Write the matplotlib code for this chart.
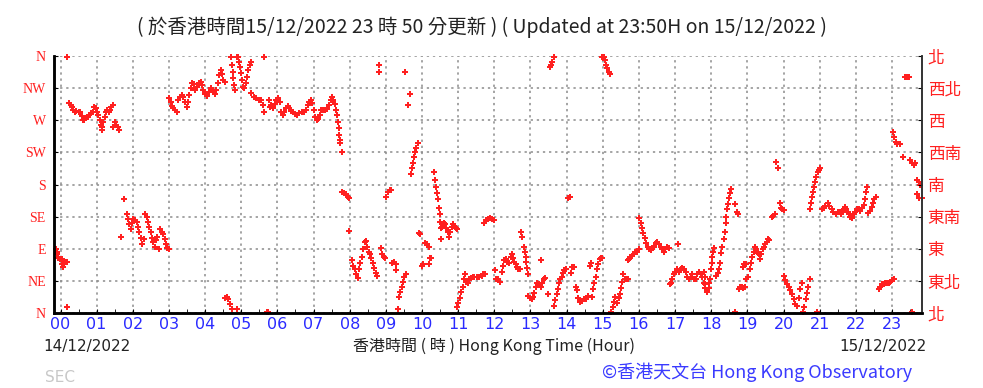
import matplotlib.pyplot as plt
from matplotlib.ticker import MultipleLocator

# wind direction (degrees) vs Hong Kong time (hours)
hours_a = [-0.13, -0.11, -0.09, -0.065, -0.02, 0.03, 0.055, 0.07, 0.11, 0.15, 0.17, 0.185, 0.17,
           0.24, 0.28, 0.31, 0.35, 0.39, 0.44, 0.50, 0.55, 0.59, 0.63, 0.66, 0.70, 0.75, 0.79, 0.85,
           0.89, 0.93, 0.98, 1.02, 1.05, 1.09, 1.12, 1.14, 1.16, 1.18, 1.22, 1.26, 1.29, 1.33, 1.37,
           1.41, 1.46, 1.44, 1.50, 1.53, 1.58, 1.63,
           1.66, 1.75, 1.83, 1.86, 1.90, 1.94, 1.98, 2.01, 2.06, 2.11, 2.14, 2.18, 2.22, 2.25, 2.31,
           2.34, 2.38, 2.42, 2.46, 2.49, 2.53, 2.57, 2.61, 2.64, 2.68, 2.72, 2.75, 2.80, 2.84, 2.88,
           2.92, 2.95, 2.99,
           3.01, 3.05, 3.08, 3.12, 3.17, 3.21, 3.26, 3.30, 3.35, 3.40, 3.44, 3.49, 3.52, 3.56, 3.60,
           3.65, 3.69, 3.73, 3.77, 3.82, 3.88, 3.91, 3.95, 4.00, 4.04, 4.10, 4.15, 4.21, 4.27, 4.30,
           4.35, 4.39, 4.43, 4.47, 4.50, 4.54, 4.71, 4.74, 4.76, 4.78, 4.81, 4.84, 4.87, 4.92, 4.95,
           4.97, 4.99, 5.01, 5.04, 5.08, 5.12, 5.15, 5.19, 5.23, 5.26, 5.27, 5.34, 5.41, 5.48, 5.54,
           5.60, 5.63, 5.64, 5.78, 5.80,
           4.55, 4.60, 4.64, 4.69, 4.74, 4.89, 5.71, 5.75]
dir_a = [89, 86, 83, 77, 75, 75, 69, 65, 70, 72, 71, 358, 8,
         294, 292, 288, 284, 282, 283, 282, 281, 276, 271, 270, 273, 275, 277, 280,
         282, 288, 287, 282, 277, 270, 263, 257, 260, 268, 275, 281, 284, 282, 285,
         288, 291, 260, 267, 263, 260, 256,
         106, 159, 139, 131, 124, 117, 126, 131, 130, 128, 121, 114, 105, 97, 103,
         139, 135, 128, 121, 113, 105, 99, 93, 102, 107, 89, 117, 113, 110, 103,
         96, 91, 89,
         301, 295, 290, 287, 284, 282, 298, 303, 305, 302, 296, 288, 296, 305, 315,
         322, 321, 313, 317, 322, 324, 319, 313, 307, 304, 310, 315, 312, 307, 312,
         322, 333, 340, 335, 327, 324, 358, 347, 338, 329, 319, 312, 359, 358, 352,
         345, 336, 326, 317, 315, 322, 331, 340, 347, 351, 308, 303, 301, 299, 298,
         291, 282, 359, 298, 289,
         21, 23, 19, 12, 5, 6, 2, 1]

hours_b = [5.83, 5.87, 5.92, 5.96, 6.01, 6.06, 6.10, 6.15, 6.19, 6.24, 6.29, 6.33, 6.38, 6.43,
           6.49, 6.54, 6.61, 6.67, 6.73, 6.79, 6.84, 6.88, 6.93, 6.97, 7.00, 7.04, 7.10, 7.13, 7.17,
           7.21, 7.26, 7.32, 7.37, 7.42, 7.47, 7.50, 7.54, 7.58, 7.61, 7.65, 7.67, 7.69, 7.70, 7.72,
           7.74, 7.78, 7.78, 7.85, 7.90, 7.94, 7.99, 7.99,
           8.06, 8.10, 8.15, 8.18, 8.22, 8.26, 8.29, 8.33, 8.37, 8.41, 8.44, 8.48, 8.52, 8.55, 8.59,
           8.64, 8.68, 8.73, 8.76, 8.82, 8.80, 8.87, 8.90, 8.94, 8.98, 9.01, 9.05, 9.11, 9.14, 9.16,
           9.22, 9.27, 9.29, 9.33, 9.37, 9.40, 9.44, 9.47, 9.51, 9.55, 9.54, 9.62, 9.68,
           9.70, 9.72, 9.75, 9.78, 9.80, 9.84, 9.88, 9.91, 9.94, 9.99, 10.03, 10.08, 10.14, 10.19,
           10.21, 10.25, 10.18, 10.34, 10.37, 10.40, 10.42, 10.45, 10.47, 10.49, 10.51, 10.52, 10.52,
           10.56, 10.60, 10.64, 10.67, 10.71, 10.75, 10.78, 10.82, 10.86, 10.89, 10.94, 10.97,
           10.97, 11.00, 11.04, 11.08, 11.12, 11.15, 11.19, 11.23, 11.26, 11.31, 11.35, 11.40, 11.45,
           11.52, 11.58, 11.65, 11.70, 11.74, 11.72, 11.77, 11.82, 11.87, 11.94, 12.00]
dir_b = [291, 287, 293, 298, 301, 295, 282, 277, 282, 287, 290, 287, 283, 281,
         279, 278, 280, 281, 282, 285, 291, 296, 299, 294, 284, 275, 270, 272, 277,
         284, 285, 284, 286, 291, 299, 302, 298, 293, 285, 277, 268, 259, 249, 242,
         238, 226, 170, 168, 166, 163, 161, 115,
         74, 66, 61, 55, 49, 61, 70, 79, 89, 100, 101, 93, 86, 82, 77,
         70, 63, 56, 52, 347, 337, 91, 83, 79, 77, 163, 170, 172, 172, 70,
         71, 68, 60, 6, 23, 30, 37, 44, 51, 55, 337, 291, 307,
         195, 203, 210, 218, 225, 231, 238, 112, 110, 66, 69, 98, 97, 93,
         77, 77, 68, 198, 187, 177, 168, 159, 147, 138, 128, 119, 104,
         121, 126, 124, 119, 113, 106, 114, 121, 125, 122, 119, 117,
         9, 14, 21, 29, 37, 47, 54, 44, 42, 47, 49, 50, 51,
         51, 51, 52, 54, 55, 126, 130, 131, 133, 131, 130]

hours_c = [12.02, 12.04, 12.10, 12.17, 12.22, 12.24, 12.28, 12.31, 12.36, 12.41, 12.45, 12.48,
           12.52, 12.55, 12.59, 12.63, 12.66, 12.70, 12.74, 12.77, 12.81, 12.84, 12.87, 12.88, 12.90,
           12.92, 13.53, 13.57, 13.60, 13.64,
           12.94, 12.98, 13.03, 13.07, 13.11, 13.14, 13.19, 13.24, 13.28, 13.33, 13.37, 13.41, 13.29,
           13.49, 13.64, 13.68, 13.72, 13.75, 13.79, 13.83, 13.86, 13.90, 13.94, 13.97, 14.05, 14.08,
           14.11, 14.16, 14.20, 14.25, 14.29, 14.32, 14.38, 14.43, 14.49, 14.54, 14.60, 14.64, 14.67,
           14.69, 14.73, 14.76, 14.80, 14.84, 14.87, 14.91, 14.95, 14.99,
           14.99, 15.02, 15.06, 15.10, 15.13, 15.17, 15.20,
           15.24, 15.28, 15.32, 15.35, 15.40, 15.44, 15.48, 15.51, 15.54, 15.57, 15.61, 15.67, 15.70,
           15.69, 15.73, 15.76, 15.80, 15.85, 15.90, 15.94, 15.99,
           16.00, 16.05, 16.08, 16.12, 16.16, 16.20, 16.24, 16.27, 16.32, 16.37, 16.41, 16.46, 16.51,
           16.55, 16.60, 16.64, 16.69, 16.73, 16.78, 16.83, 17.09,
           16.85, 16.88, 16.92, 16.97, 17.01, 17.06, 17.10, 17.15, 17.20, 17.24, 17.29, 17.34, 17.38,
           17.43, 17.47, 17.52, 17.57, 17.61, 17.66, 17.71, 17.75, 17.80, 17.84, 17.87]
dir_c = [60, 47, 48, 44, 58, 66, 74, 76, 72, 70, 78, 82,
         77, 72, 68, 64, 62, 62, 114, 107, 93, 86, 79, 72, 63,
         55, 345, 347, 351, 359,
         24, 21, 20, 23, 28, 36, 42, 40, 36, 42, 47, 49, 74,
         27, 10, 18, 26, 34, 42, 47, 51, 56, 60, 61, 161, 162,
         56, 64, 65, 36, 32, 21, 16, 17, 19, 19, 24, 66, 70,
         22, 33, 42, 51, 61, 69, 75, 77, 77,
         359, 358, 354, 347, 343, 338, 335,
         2, 9, 16, 23, 14, 21, 26, 35, 44, 54, 47, 47, 47,
         74, 75, 78, 80, 83, 85, 86, 89,
         133, 126, 119, 112, 105, 98, 92, 89, 88, 91, 93, 98, 99,
         96, 93, 90, 86, 89, 92, 91, 97,
         40, 42, 47, 55, 58, 61, 58, 61, 63, 62, 57, 51, 47,
         51, 54, 48, 47, 54, 58, 55, 51, 42, 35, 29]

hours_d = [17.79, 17.82, 17.84, 17.88, 17.93, 17.95, 17.97, 17.99, 18.01, 18.03, 18.05, 18.08,
           18.14, 18.18, 18.21, 18.25, 18.28, 18.31, 18.34, 18.37, 18.40, 18.42, 18.43, 18.46, 18.49,
           18.53, 18.56, 18.67, 18.71, 18.75, 18.65,
           18.76, 18.80, 18.85, 18.89, 18.94, 18.97, 18.88, 18.91, 18.96,
           19.03, 19.06, 19.10, 19.13, 19.17, 19.21, 19.25, 19.28, 19.32, 19.36, 19.39, 19.43, 19.47,
           19.50, 19.54, 19.58, 19.61, 19.67, 19.70, 19.76, 19.79, 19.85, 19.89, 19.92, 19.96, 20.00,
           20.00, 20.05, 20.09, 20.14, 20.19, 20.23, 20.28, 20.32, 20.37, 20.42, 20.46, 20.50, 20.54,
           20.57, 20.61, 20.65, 20.69, 20.72, 20.92,
           20.72, 20.75, 20.78, 20.81, 20.83, 20.87, 20.91, 20.94, 20.98, 21.02,
           21.06, 21.11, 21.16, 21.22, 21.27, 21.33, 21.38, 21.44, 21.50, 21.55, 21.59, 21.63, 21.66,
           21.70, 21.74, 21.77, 21.81, 21.85, 21.89, 21.94, 21.99, 22.03, 22.08, 22.12, 22.17, 22.22,
           22.25, 22.29, 22.32, 22.35, 22.40, 22.44, 22.47, 22.51, 22.55,
           22.63, 22.68, 22.72, 22.77, 22.81, 22.86, 22.91, 22.95, 23.00, 23.05,
           23.03, 23.06, 23.10, 23.15, 23.21, 23.30, 23.37, 23.42, 23.48, 23.51, 23.56, 23.61, 23.65,
           23.69, 23.74, 23.78, 23.69, 23.76, 23.82, 23.54]
dir_d = [58, 51, 40, 30, 35, 42, 47, 61, 70, 79, 86, 91,
         52, 56, 61, 70, 84, 93, 103, 114, 126, 135, 145, 152, 161,
         168, 173, 152, 141, 138, 1,
         33, 37, 37, 35, 36, 47, 65, 68, 69,
         51, 61, 70, 79, 86, 93, 90, 84, 82, 76, 82, 89, 93,
         96, 99, 103, 102, 135, 136, 138, 211, 203, 154, 147, 145, 144,
         52, 46, 40, 36, 32, 26, 19, 12, 10, 21, 33, 42, 2,
         9, 19, 28, 37, 47, 1,
         146, 154, 163, 170, 177, 184, 191, 198, 201, 203,
         145, 147, 150, 154, 150, 145, 141, 138, 141, 142, 138, 142, 145,
         149, 145, 141, 138, 135, 133, 138, 142, 145, 145, 143, 147, 151,
         159, 169, 177, 140, 143, 149, 154, 159, 163,
         34, 37, 40, 41, 42, 42, 42, 44, 46, 47,
         253, 246, 239, 237, 237, 218, 331, 331, 331, 215, 210, 207, 210,
         186, 184, 180, 166, 161, 161, 1]

hour_labels = ["%02d" % h for h in range(24)]
dir_labels_en = ["N", "NE", "E", "SE", "S", "SW", "W", "NW", "N"]
dir_labels_zh = ["北", "東北", "東", "東南", "南", "西南", "西", "西北", "北"]

RED = "#ff2020"
BLUE = "#2a2aff"

fig = plt.figure(figsize=(9.83, 3.88), dpi=100)
ax = fig.add_axes([54 / 983, 1 - 313 / 388, (922 - 54) / 983, (313 - 56) / 388])

for hs, ds in [(hours_a, dir_a), (hours_b, dir_b), (hours_c, dir_c), (hours_d, dir_d)]:
    ax.plot(hs, ds, ls="none", marker="P", ms=4.2, color=RED, mew=0, clip_on=False)

ax.set_xlim(-0.18, 23.83)
ax.set_ylim(0, 360)
ax.set_xticks(range(24))
ax.set_xticklabels(hour_labels, color=BLUE, fontsize=11.5, fontfamily="DejaVu Sans")
ax.xaxis.set_minor_locator(MultipleLocator(0.5))
ax.set_yticks(range(0, 361, 45))
ax.set_yticklabels(dir_labels_en, color=RED, fontsize=10, fontfamily="Liberation Serif")
ax.tick_params(axis="x", which="both", direction="in", length=3, pad=3)
ax.tick_params(axis="y", direction="in", length=3, pad=6)
ax.grid(True, color="#8c8c8c", linestyle=(0, (1.5, 2.5)), linewidth=1.1)

ax2 = ax.twinx()
ax2.set_ylim(0, 360)
ax2.set_yticks(range(0, 361, 45))
ax2.set_yticklabels(dir_labels_zh, color=RED, fontsize=12, fontfamily="Noto Sans CJK TC")
ax2.tick_params(axis="y", direction="in", length=3, pad=4)

for a in (ax, ax2):
    a.spines["top"].set_visible(False)
    a.spines["left"].set_linewidth(1.8)
    a.spines["bottom"].set_linewidth(1.8)
    a.spines["right"].set_linewidth(1.2)
    a.spines["right"].set_color("#333333")

fig.text(0.49, 0.93, "( 於香港時間15/12/2022 23 時 50 分更新 ) ( Updated at 23:50H on 15/12/2022 )",
         ha="center", va="center", fontsize=14, color="#222222", fontfamily="Noto Sans CJK TC")
fig.text(43 / 983, 1 - 346 / 388, "14/12/2022", ha="left", va="center", fontsize=11, color="#222222")
fig.text(927 / 983, 1 - 346 / 388, "15/12/2022", ha="right", va="center", fontsize=11, color="#222222")
fig.text(494 / 983, 1 - 346 / 388, "香港時間 ( 時 ) Hong Kong Time (Hour)", ha="center", va="center",
         fontsize=11.5, color="#222222", fontfamily=["Noto Sans CJK TC", "DejaVu Sans"])
fig.text(45 / 983, 1 - 377 / 388, "SEC", ha="left", va="center", fontsize=11, color="#c8c8c8")
fig.text(912 / 983, 1 - 372 / 388, "©香港天文台 Hong Kong Observatory", ha="right", va="center",
         fontsize=13, color="#3a3aff", fontfamily=["Noto Sans CJK TC", "DejaVu Sans"])

fig.savefig("out.png", dpi=100)
